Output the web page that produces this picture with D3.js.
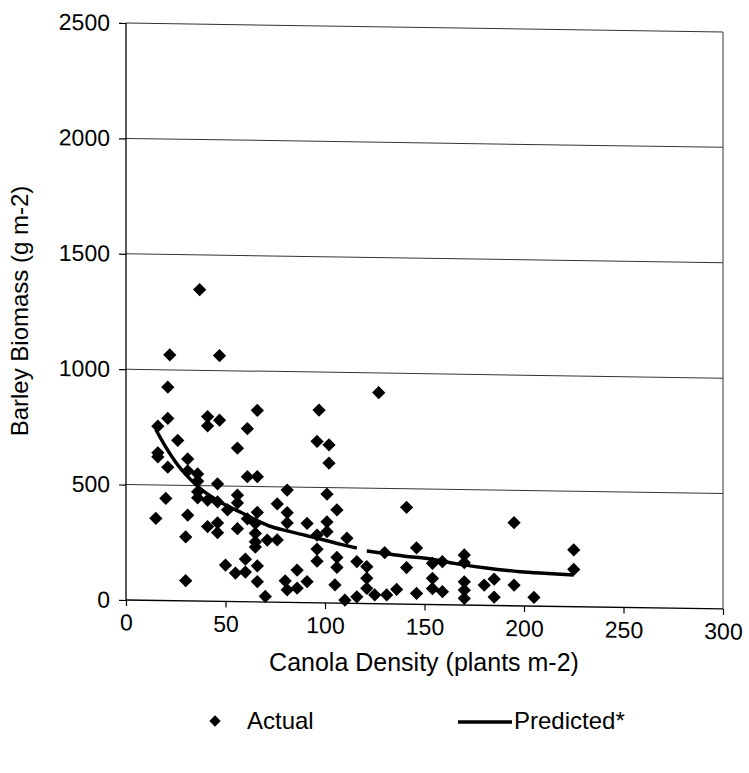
<!DOCTYPE html>
<html>
<head>
<meta charset="utf-8">
<script src="https://cdn.jsdelivr.net/npm/d3@7"></script>
<style>
  html, body { margin: 0; padding: 0; background: #fff; }
  svg { display: block; font-family: "Liberation Sans", Arial, sans-serif; }
</style>
</head>
<body>
<svg id="chart" width="749" height="773"></svg>
<script>
// Actual observations (canola density, barley biomass)
const actualX = [37, 22, 47, 21, 21, 16, 41, 41, 47, 61, 66, 26, 16, 16, 56, 31, 21, 31, 36, 36,
  61, 66, 46, 36, 36, 20, 41, 46, 51, 56, 56, 66, 15, 31, 61, 41, 46, 46, 56, 65,
  65, 65, 65, 71, 30, 50, 55, 60, 60, 66, 66, 30, 70, 76, 81, 76, 81, 81, 91, 101,
  106, 101, 101, 96, 96, 96, 106, 106, 111, 105, 86, 80, 91, 81, 86, 110, 97, 96, 102, 102,
  127, 141, 146, 116, 121, 130, 154, 159, 141, 121, 121, 136, 125, 131, 116, 146, 154, 154, 159, 170,
  170, 170, 170, 170, 180, 185, 185, 195, 195, 205, 225, 225];
const actualY = [1350, 1065, 1065, 925, 790, 755, 800, 760, 785, 750, 830, 695, 640, 622, 665, 615, 578, 563, 551, 520,
  542, 543, 509, 473, 447, 443, 438, 431, 397, 462, 428, 388, 356, 372, 359, 323, 340, 298, 316, 340,
  297, 260, 238, 269, 277, 158, 124, 185, 129, 156, 88, 88, 25, 270, 487, 426, 389, 345, 344, 472,
  404, 352, 309, 294, 233, 181, 198, 155, 282, 79, 141, 93, 91, 54, 63, 14, 835, 700, 685, 606,
  915, 420, 245, 181, 160, 222, 179, 187, 159, 110, 66, 64, 38, 39, 29, 48, 114, 69, 57, 217,
  184, 101, 65, 29, 88, 114, 36, 90, 360, 38, 246, 162];

// Predicted curve (null marks the break seen in the line)
const predX = [15, 20, 25, 28, 32, 37, 42, 47, 52, 57, 66, 72, 81, 90, 100, 108, 116, 118, 121, 130, 140, 154, 165, 180, 198, 212, 225];
const predY = [740, 665, 600, 567, 530, 490, 458, 432, 410, 390, 352, 330, 310, 292, 272, 255, 240, null, 228, 218, 208, 197, 180, 163, 148, 142, 137];

const xTicks = [0, 50, 100, 150, 200, 250, 300];
const yTicks = [0, 500, 1000, 1500, 2000, 2500];

const svg = d3.select('#chart');
svg.append('rect').attr('width', 749).attr('height', 773).attr('fill', '#fff');

const margin = { left: 126, right: 26, top: 23, bottom: 173 };
const x = d3.scaleLinear().domain([0, 300]).range([margin.left, 749 - margin.right]);
const y = d3.scaleLinear().domain([0, 2500]).range([773 - margin.bottom, margin.top]);

// the scanned original is slightly tilted
const plot = svg.append('g')
  .attr('transform', `translate(${x(0)},${y(0)}) skewY(0.86) translate(${-x(0)},${-y(0)})`);

// gridlines
plot.append('g')
  .selectAll('line')
  .data(yTicks.filter(d => d > 0))
  .join('line')
  .attr('x1', x(0)).attr('x2', x(300))
  .attr('y1', d => y(d)).attr('y2', d => y(d))
  .attr('stroke', '#333').attr('stroke-width', 1);

// right border
plot.append('line')
  .attr('x1', x(300)).attr('x2', x(300))
  .attr('y1', y(0)).attr('y2', y(2500))
  .attr('stroke', '#333').attr('stroke-width', 1);

const xAxis = plot.append('g')
  .attr('transform', `translate(0,${y(0)})`)
  .call(d3.axisBottom(x).tickValues(xTicks).tickSize(6).tickPadding(8).tickFormat(d3.format('d')));

const yAxis = plot.append('g')
  .attr('transform', `translate(${x(0)},0)`)
  .call(d3.axisLeft(y).tickValues(yTicks).tickSize(7).tickPadding(9).tickFormat(d3.format('d')));

[xAxis, yAxis].forEach(a => {
  a.select('.domain').attr('stroke', '#000').attr('stroke-width', 1.3);
  a.selectAll('.tick line').attr('stroke', '#000').attr('stroke-width', 1.2);
  a.selectAll('.tick text').attr('font-size', 23).attr('fill', '#000')
    .attr('font-family', '"Liberation Sans", Arial, sans-serif');
});
xAxis.select('.domain').attr('d', `M${x(0)},0H${x(300)}`);
yAxis.select('.domain').attr('d', `M0,${y(0)}V${y(2500)}`);

// diamonds
const diamond = d3.symbol().type(d3.symbolSquare).size(88);
const actual = actualX.map((d, i) => ({ x: d, y: actualY[i] }));
plot.append('g')
  .selectAll('path')
  .data(actual)
  .join('path')
  .attr('d', diamond)
  .attr('transform', d => `translate(${x(d.x)},${y(d.y)}) rotate(45)`)
  .attr('fill', '#000');

// predicted line
const pred = predX.map((d, i) => ({ x: d, y: predY[i] }));
const line = d3.line()
  .defined(d => d.y !== null)
  .x(d => x(d.x))
  .y(d => y(d.y))
  .curve(d3.curveMonotoneX);
plot.append('path')
  .datum(pred)
  .attr('d', line)
  .attr('fill', 'none')
  .attr('stroke', '#000')
  .attr('stroke-width', 3.5);

// axis titles
svg.append('text')
  .attr('x', 424).attr('y', 671)
  .attr('text-anchor', 'middle')
  .attr('font-size', 25)
  .text('Canola Density (plants m-2)');

svg.append('text')
  .attr('transform', 'translate(28,311) rotate(-90)')
  .attr('text-anchor', 'middle')
  .attr('font-size', 24)
  .text('Barley Biomass (g m-2)');

// legend
const legend = svg.append('g').attr('transform', 'translate(0,721)');
legend.append('path')
  .attr('d', d3.symbol().type(d3.symbolSquare).size(64)())
  .attr('transform', 'translate(215,0) rotate(45)');
legend.append('text').attr('x', 247).attr('y', 8).attr('font-size', 24).text('Actual');
legend.append('line')
  .attr('x1', 458).attr('x2', 512).attr('y1', 1).attr('y2', 1)
  .attr('stroke', '#000').attr('stroke-width', 3.5);
legend.append('text').attr('x', 514).attr('y', 8).attr('font-size', 24).text('Predicted*');
</script>
</body>
</html>
